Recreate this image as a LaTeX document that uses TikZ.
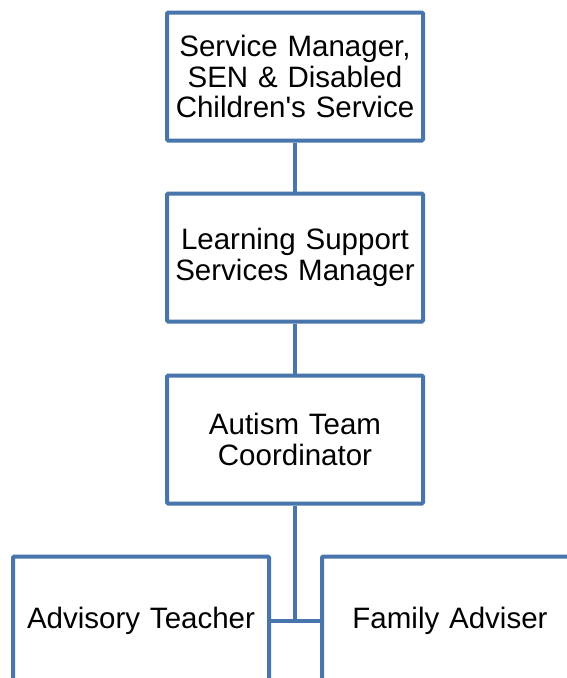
\documentclass[tikz,border=0pt]{standalone}
\usepackage{fontspec}
\setmainfont{Liberation Sans}[Ligatures=TeXOff]
\definecolor{boxblue}{RGB}{72,117,172}
\begin{document}
\begin{tikzpicture}[x=1pt,y=-1pt,
  orgbox/.style={draw=boxblue, line width=4pt, rounded corners=1.2pt, fill=white,
    minimum width=256pt, minimum height=128pt, inner sep=0pt,
    align=center, text width=254pt,
    font=\fontsize{29.5pt}{30.5pt}\selectfont},
  link/.style={draw=boxblue, line width=4pt}]
\useasboundingbox (0,0) rectangle (567,678);
\clip (0,0) rectangle (567,678);
\fill[white] (0,0) rectangle (567,678);
\node[orgbox] (sm) at (295,76.5) {Service Manager,\\SEN \& Disabled\\Children's Service};
\node[orgbox] (ls) at (295,257.5) {Learning Support\\Services Manager};
\node[orgbox] (at) at (295,439.5) {Autism Team\\Coordinator};
\node[orgbox] (adv) at (141,620.5) {Advisory Teacher};
\node[orgbox] (fam) at (450,620.5) {Family Adviser};
\coordinate (j) at (at.south |- adv.east);
\draw[link] (sm) -- (ls);
\draw[link] (ls) -- (at);
\draw[link] (at.south) -- (j);
\draw[link] (adv.east) -- (fam.west);
\end{tikzpicture}
\end{document}
